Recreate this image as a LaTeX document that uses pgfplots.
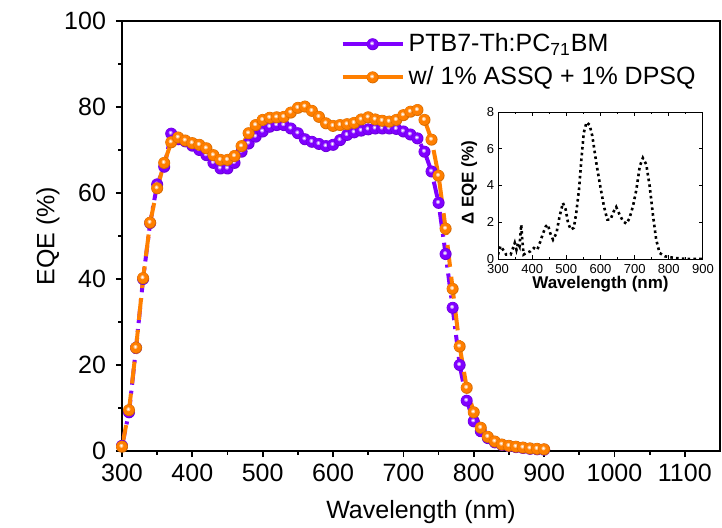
\documentclass[border=0pt]{standalone}
\usepackage{pgfplots}
\pgfplotsset{compat=1.18}
\usepackage{fontspec}
\setmainfont{Liberation Sans}
\definecolor{pur}{RGB}{127,0,255}
\definecolor{org}{RGB}{255,127,0}
\newcommand{\ballmark}[1]{%
  \pgfpathcircle{\pgfpointorigin}{\pgfplotmarksize}\pgfsetfillcolor{#1!85!black}\pgfusepathqfill
  \pgfpathcircle{\pgfpoint{-0.05\pgfplotmarksize}{0.05\pgfplotmarksize}}{0.92\pgfplotmarksize}\pgfsetfillcolor{#1}\pgfusepathqfill
  \pgfpathcircle{\pgfpoint{-0.1\pgfplotmarksize}{0.15\pgfplotmarksize}}{0.34\pgfplotmarksize}\pgfsetfillcolor{#1!45!white}\pgfusepathqfill
  \pgfpathcircle{\pgfpoint{-0.1\pgfplotmarksize}{0.15\pgfplotmarksize}}{0.17\pgfplotmarksize}\pgfsetfillcolor{white}\pgfusepathqfill}
\pgfdeclareplotmark{pball}{\ballmark{pur}}
\pgfdeclareplotmark{oball}{\ballmark{org}}
\newcommand{\mainfs}{\fontsize{12.5}{15}\selectfont}
\begin{document}
\begin{tikzpicture}
\useasboundingbox (-61pt,-38pt) rectangle (300pt,225.5pt);
\begin{axis}[
  at={(0pt,0pt)}, anchor=south west,
  scale only axis, width=299pt, height=215pt,
  xmin=300, xmax=1150, ymin=0, ymax=100,
  xtick={300,400,...,1100}, ytick={0,20,...,100},
  minor x tick num=1, minor y tick num=1,
  tick align=outside, tick pos=left,
  major tick length=3pt, minor tick length=1.8pt,
  axis line style={line width=1pt},
  every tick/.style={black, line width=0.9pt},
  /pgf/number format/assume math mode=true,
  /pgf/number format/1000 sep={},
  ticklabel style={font=\mainfs},
  yticklabel style={xshift=-1.5pt},
  xlabel={Wavelength (nm)}, ylabel={EQE (\%)},
  label style={font=\mainfs},
  xlabel style={at={(axis description cs:0.5,-0.1419)}, anchor=center},
  ylabel style={at={(axis description cs:-0.1237,0.5)}, anchor=center},
  legend style={at={(0.355,0.99)}, anchor=north west, draw=none, fill=none,
    font=\mainfs, row sep=2pt},
  legend cell align=left,
  legend image code/.code={
    \draw[mark repeat=2,mark phase=2,#1,solid] plot coordinates {(0pt,0pt) (15pt,0pt) (30pt,0pt)};
  },
]
\addplot[color=pur, line width=2pt, dash pattern=on 8pt off 3pt on 1.5pt off 3pt,
  mark=pball, mark size=3.0pt] coordinates {
(300,1.2) (310,9.0) (320,24.0) (330,40.0) (340,53.0) (350,62.0) (360,66.1) (370,73.8)
(380,72.5) (390,72.0) (400,71.0) (410,70.0) (420,68.8) (430,67.0) (440,65.7) (450,65.7)
(460,67.0) (470,69.6) (480,71.5) (490,73.1) (500,74.3) (510,75.4) (520,75.8) (530,75.8)
(540,75.0) (550,73.9) (560,72.5) (570,71.9) (580,71.4) (590,70.9) (600,71.2) (610,72.3)
(620,73.5) (630,74.1) (640,74.5) (650,74.8) (660,75.0) (670,75.0) (680,75.0) (690,74.9)
(700,74.3) (710,73.6) (720,72.7) (730,69.6) (740,65.0) (750,57.7) (760,45.8) (770,33.3)
(780,20.0) (790,11.7) (800,6.9) (810,4.6) (820,3.0) (830,2.0) (840,1.4) (850,1.1)
(860,0.9) (870,0.7) (880,0.5) (890,0.4) (900,0.3)
};
\addlegendentry{PTB7-Th:PC\textsubscript{71}BM}
\addplot[color=org, line width=2pt, dash pattern=on 11pt off 5pt,
  mark=oball, mark size=3.0pt] coordinates {
(300,1.0) (310,9.5) (320,24.0) (330,40.2) (340,53.1) (350,61.1) (360,67.0) (370,71.8)
(380,72.9) (390,72.2) (400,71.6) (410,71.2) (420,70.4) (430,68.8) (440,67.7) (450,67.7)
(460,68.6) (470,70.9) (480,73.9) (490,75.8) (500,77.0) (510,77.5) (520,77.6) (530,77.7)
(540,78.7) (550,79.8) (560,80.1) (570,79.1) (580,77.7) (590,76.2) (600,75.6) (610,75.8)
(620,76.0) (630,76.3) (640,77.1) (650,77.6) (660,77.1) (670,76.8) (680,76.6) (690,77.0)
(700,78.1) (710,78.9) (720,79.3) (730,77.0) (740,72.4) (750,64.0) (760,51.7) (770,37.7)
(780,24.3) (790,14.7) (800,9.0) (810,5.4) (820,3.3) (830,2.2) (840,1.5) (850,1.2)
(860,1.0) (870,0.8) (880,0.6) (890,0.5) (900,0.4)
};
\addlegendentry{w/ 1\% ASSQ + 1\% DPSQ}
\end{axis}
\begin{axis}[
  at={(188pt,96pt)}, anchor=south west,
  scale only axis, width=102.5pt, height=73.5pt,
  xmin=300, xmax=900, ymin=0, ymax=8,
  xtick={300,400,...,900}, ytick={0,2,...,8},
  minor x tick num=1,
  tick align=inside,
  major tick length=2pt, minor tick length=1.2pt,
  axis line style={line width=0.5pt},
  every tick/.style={black, line width=0.5pt},
  /pgf/number format/assume math mode=true,
  ticklabel style={font=\fontsize{6.5}{7}\selectfont, inner sep=1pt},
  xticklabel style={yshift=-1.6pt},
  yticklabel style={xshift=-0.8pt},
  xlabel={Wavelength (nm)}, ylabel={Δ EQE (\%)},
  label style={font=\fontsize{8.5}{10}\selectfont\bfseries},
  xlabel style={at={(axis description cs:0.5,-0.172)}, anchor=center},
  ylabel style={at={(axis description cs:-0.14,0.52)}, anchor=center},
]
\addplot[black, line width=1.3pt, dash pattern=on 1.3pt off 1.6pt] coordinates {
(300,0.24) (307,0.7) (315,0.5) (324,0.24) (337,0.24) (344,0.6) (349,0.87) (354,0.5)
(359,0.87) (363,0.7) (368,1.87) (371,1.05) (375,0.24) (383,0.33) (395,0.42) (405,0.6)
(415,0.5) (424,0.96) (432,1.4) (440,1.78) (446,1.87) (453,1.4) (461,1.05) (471,1.4)
(480,2.3) (490,3.05) (498,2.7) (505,1.96) (513,1.6) (522,1.7) (529,2.5) (537,3.77)
(544,5.4) (551,6.86) (559,7.44) (568,7.3) (576,6.7) (588,5.2) (598,4.1) (610,2.87)
(620,2.14) (629,2.14) (639,2.6) (646,2.83) (656,2.41) (666,2.05) (676,1.92) (685,2.23)
(695,2.87) (705,3.77) (715,5.05) (724,5.5) (734,5.14) (744,3.96) (754,2.32) (763,1.05)
(773,0.33) (788,0.15) (802,0.1) (822,0.05) (851,0.0) (900,0.0)
};
\end{axis}
\end{tikzpicture}
\end{document}
